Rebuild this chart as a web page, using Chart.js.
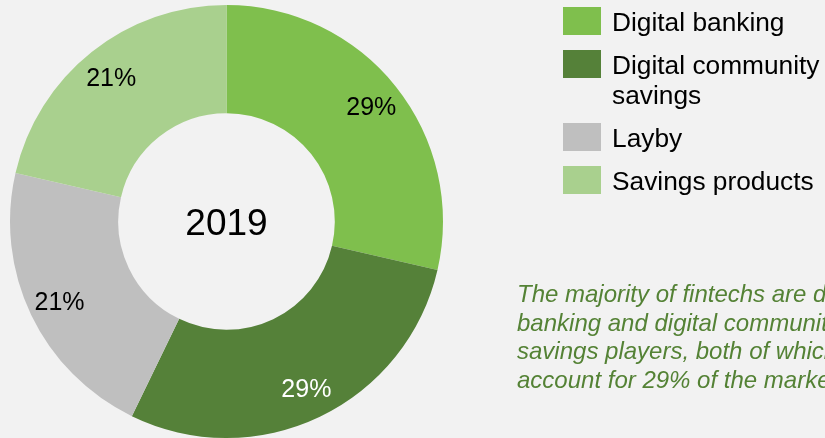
<!DOCTYPE html>
<html>
<head>
<meta charset="utf-8">
<script src="https://cdn.jsdelivr.net/npm/chart.js@4/dist/chart.umd.min.js"></script>
<style>
  html, body { margin:0; padding:0; width:825px; height:438px; overflow:hidden; background:#f2f2f2; }
  body { position:relative; font-family:"Liberation Sans", Arial, sans-serif; }
  #wrap { position:absolute; left:0; top:0; width:825px; height:438px; }
  #legend { position:absolute; left:563px; top:7px; width:262px; }
  .item { position:relative; margin-bottom:13px; padding-left:49px; font-size:26.3px; line-height:30px; color:#000; width:213px; }
  .box { position:absolute; left:0; top:0; width:38px; height:28px; }
  .txt { position:relative; top:0px; }
  #note { position:absolute; left:517px; top:280px; font-size:24px; line-height:28.6px; font-style:italic; color:#548235; white-space:nowrap; }
</style>
</head>
<body>
<div id="wrap"><canvas id="c" width="825" height="438"></canvas></div>
<div id="legend"></div>
<div id="note"></div>
<script>
// ---- data ----
const categories = ["Digital banking", "Digital community savings", "Layby", "Savings products"];
const shares = [28.6, 28.6, 21.4, 21.4];
const centerLabel = "2019";
const noteLines = [
  "The majority of fintechs are digital",
  "banking and digital community",
  "savings players, both of which",
  "account for 29% of the market."
];

// ---- styles ----
const colors = ["#7fbf4d", "#558139", "#bfbfbf", "#a9d08e"];
const labelColors = ["#000000", "#ffffff", "#000000", "#000000"];

// legend (HTML)
const legend = document.getElementById("legend");
categories.forEach((c, i) => {
  const d = document.createElement("div");
  d.className = "item";
  const b = document.createElement("div");
  b.className = "box";
  b.style.background = colors[i];
  const t = document.createElement("div");
  t.className = "txt";
  t.textContent = c;
  d.appendChild(b); d.appendChild(t);
  legend.appendChild(d);
});
const note = document.getElementById("note");
noteLines.forEach((l, i) => {
  if (i) note.appendChild(document.createElement("br"));
  note.appendChild(document.createTextNode(l));
});

const FONT = '"Liberation Sans", Arial, sans-serif';
const labelPlugin = {
  id: "sliceLabels",
  afterDatasetsDraw(chart) {
    const ctx = chart.ctx;
    const meta = chart.getDatasetMeta(0);
    ctx.save();
    ctx.textAlign = "center";
    ctx.textBaseline = "alphabetic";
    const size = 25;
    ctx.font = size + "px " + FONT;
    meta.data.forEach((arc, i) => {
      const p = arc.getProps(["x", "y", "startAngle", "endAngle", "innerRadius", "outerRadius"], true);
      const a = (p.startAngle + p.endAngle) / 2;
      const r = p.innerRadius + 0.71 * (p.outerRadius - p.innerRadius);
      const x = p.x + Math.cos(a) * r;
      const y = p.y + Math.sin(a) * r;
      ctx.fillStyle = labelColors[i];
      ctx.fillText(Math.round(shares[i]) + "%", x, y + 0.358 * size);
    });
    const c0 = meta.data[0];
    const cs = 37;
    ctx.font = cs + "px " + FONT;
    ctx.fillStyle = "#000";
    ctx.fillText(centerLabel, c0.x, c0.y + 0.358 * cs);
    ctx.restore();
  }
};

new Chart(document.getElementById("c"), {
  type: "doughnut",
  data: {
    labels: categories,
    datasets: [{
      data: shares,
      backgroundColor: colors,
      borderWidth: 0,
      hoverOffset: 0
    }]
  },
  options: {
    responsive: false,
    animation: false,
    cutout: "50%",
    rotation: 0,
    layout: { padding: { left: 10, right: 382, top: 5, bottom: 0 } },
    plugins: {
      legend: { display: false },
      tooltip: { enabled: false }
    }
  },
  plugins: [labelPlugin]
});
</script>
</body>
</html>
